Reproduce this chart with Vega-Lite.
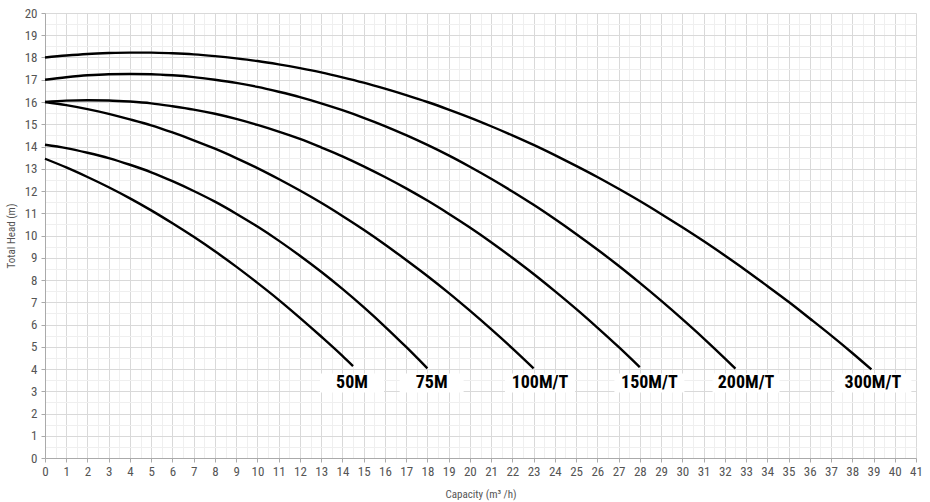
{
  "$schema": "https://vega.github.io/schema/vega-lite/v6.json",
  "autosize": "none",
  "width": 871,
  "height": 445,
  "padding": {"left": 45, "top": 13, "right": 14, "bottom": 44},
  "background": "white",
  "config": {"view": {"stroke": null}},
  "datasets": {
    "curves": [
      {"pump": "50M", "x": 0, "y": 13.45}, {"pump": "50M", "x": 1, "y": 13.06}, {"pump": "50M", "x": 2, "y": 12.63}, {"pump": "50M", "x": 3, "y": 12.17}, {"pump": "50M", "x": 4, "y": 11.67}, {"pump": "50M", "x": 5, "y": 11.13}, {"pump": "50M", "x": 6, "y": 10.55}, {"pump": "50M", "x": 7, "y": 9.94}, {"pump": "50M", "x": 8, "y": 9.29}, {"pump": "50M", "x": 9, "y": 8.6}, {"pump": "50M", "x": 10, "y": 7.87}, {"pump": "50M", "x": 11, "y": 7.11}, {"pump": "50M", "x": 12, "y": 6.3}, {"pump": "50M", "x": 13, "y": 5.46}, {"pump": "50M", "x": 14, "y": 4.59}, {"pump": "50M", "x": 14.5, "y": 4.13},
      {"pump": "75M", "x": 0, "y": 14.08}, {"pump": "75M", "x": 1, "y": 13.93}, {"pump": "75M", "x": 2, "y": 13.72}, {"pump": "75M", "x": 3, "y": 13.48}, {"pump": "75M", "x": 4, "y": 13.18}, {"pump": "75M", "x": 5, "y": 12.84}, {"pump": "75M", "x": 6, "y": 12.44}, {"pump": "75M", "x": 7, "y": 12.0}, {"pump": "75M", "x": 8, "y": 11.52}, {"pump": "75M", "x": 9, "y": 10.98}, {"pump": "75M", "x": 10, "y": 10.4}, {"pump": "75M", "x": 11, "y": 9.77}, {"pump": "75M", "x": 12, "y": 9.09}, {"pump": "75M", "x": 13, "y": 8.37}, {"pump": "75M", "x": 14, "y": 7.6}, {"pump": "75M", "x": 15, "y": 6.78}, {"pump": "75M", "x": 16, "y": 5.91}, {"pump": "75M", "x": 17, "y": 4.99}, {"pump": "75M", "x": 18, "y": 4.03},
      {"pump": "100M/T", "x": 0, "y": 16.0}, {"pump": "100M/T", "x": 1, "y": 15.86}, {"pump": "100M/T", "x": 2, "y": 15.68}, {"pump": "100M/T", "x": 3, "y": 15.47}, {"pump": "100M/T", "x": 4, "y": 15.22}, {"pump": "100M/T", "x": 5, "y": 14.95}, {"pump": "100M/T", "x": 6, "y": 14.63}, {"pump": "100M/T", "x": 7, "y": 14.28}, {"pump": "100M/T", "x": 8, "y": 13.9}, {"pump": "100M/T", "x": 9, "y": 13.48}, {"pump": "100M/T", "x": 10, "y": 13.03}, {"pump": "100M/T", "x": 11, "y": 12.54}, {"pump": "100M/T", "x": 12, "y": 12.02}, {"pump": "100M/T", "x": 13, "y": 11.47}, {"pump": "100M/T", "x": 14, "y": 10.88}, {"pump": "100M/T", "x": 15, "y": 10.26}, {"pump": "100M/T", "x": 16, "y": 9.6}, {"pump": "100M/T", "x": 17, "y": 8.9}, {"pump": "100M/T", "x": 18, "y": 8.18}, {"pump": "100M/T", "x": 19, "y": 7.42}, {"pump": "100M/T", "x": 20, "y": 6.62}, {"pump": "100M/T", "x": 21, "y": 5.79}, {"pump": "100M/T", "x": 22, "y": 4.93}, {"pump": "100M/T", "x": 23, "y": 4.03},
      {"pump": "150M/T", "x": 0, "y": 16.0}, {"pump": "150M/T", "x": 1, "y": 16.06}, {"pump": "150M/T", "x": 2, "y": 16.08}, {"pump": "150M/T", "x": 3, "y": 16.07}, {"pump": "150M/T", "x": 4, "y": 16.02}, {"pump": "150M/T", "x": 5, "y": 15.94}, {"pump": "150M/T", "x": 6, "y": 15.81}, {"pump": "150M/T", "x": 7, "y": 15.66}, {"pump": "150M/T", "x": 8, "y": 15.47}, {"pump": "150M/T", "x": 9, "y": 15.24}, {"pump": "150M/T", "x": 10, "y": 14.97}, {"pump": "150M/T", "x": 11, "y": 14.67}, {"pump": "150M/T", "x": 12, "y": 14.34}, {"pump": "150M/T", "x": 13, "y": 13.96}, {"pump": "150M/T", "x": 14, "y": 13.56}, {"pump": "150M/T", "x": 15, "y": 13.11}, {"pump": "150M/T", "x": 16, "y": 12.63}, {"pump": "150M/T", "x": 17, "y": 12.12}, {"pump": "150M/T", "x": 18, "y": 11.57}, {"pump": "150M/T", "x": 19, "y": 10.98}, {"pump": "150M/T", "x": 20, "y": 10.36}, {"pump": "150M/T", "x": 21, "y": 9.7}, {"pump": "150M/T", "x": 22, "y": 9.0}, {"pump": "150M/T", "x": 23, "y": 8.27}, {"pump": "150M/T", "x": 24, "y": 7.5}, {"pump": "150M/T", "x": 25, "y": 6.7}, {"pump": "150M/T", "x": 26, "y": 5.86}, {"pump": "150M/T", "x": 27, "y": 4.99}, {"pump": "150M/T", "x": 28, "y": 4.08},
      {"pump": "200M/T", "x": 0, "y": 17.0}, {"pump": "200M/T", "x": 1, "y": 17.11}, {"pump": "200M/T", "x": 2, "y": 17.2}, {"pump": "200M/T", "x": 3, "y": 17.25}, {"pump": "200M/T", "x": 4, "y": 17.26}, {"pump": "200M/T", "x": 5, "y": 17.25}, {"pump": "200M/T", "x": 6, "y": 17.2}, {"pump": "200M/T", "x": 7, "y": 17.12}, {"pump": "200M/T", "x": 8, "y": 17.0}, {"pump": "200M/T", "x": 9, "y": 16.86}, {"pump": "200M/T", "x": 10, "y": 16.68}, {"pump": "200M/T", "x": 11, "y": 16.46}, {"pump": "200M/T", "x": 12, "y": 16.22}, {"pump": "200M/T", "x": 13, "y": 15.94}, {"pump": "200M/T", "x": 14, "y": 15.63}, {"pump": "200M/T", "x": 15, "y": 15.29}, {"pump": "200M/T", "x": 16, "y": 14.92}, {"pump": "200M/T", "x": 17, "y": 14.51}, {"pump": "200M/T", "x": 18, "y": 14.07}, {"pump": "200M/T", "x": 19, "y": 13.6}, {"pump": "200M/T", "x": 20, "y": 13.09}, {"pump": "200M/T", "x": 21, "y": 12.55}, {"pump": "200M/T", "x": 22, "y": 11.98}, {"pump": "200M/T", "x": 23, "y": 11.38}, {"pump": "200M/T", "x": 24, "y": 10.74}, {"pump": "200M/T", "x": 25, "y": 10.07}, {"pump": "200M/T", "x": 26, "y": 9.37}, {"pump": "200M/T", "x": 27, "y": 8.64}, {"pump": "200M/T", "x": 28, "y": 7.87}, {"pump": "200M/T", "x": 29, "y": 7.07}, {"pump": "200M/T", "x": 30, "y": 6.24}, {"pump": "200M/T", "x": 31, "y": 5.38}, {"pump": "200M/T", "x": 32, "y": 4.48}, {"pump": "200M/T", "x": 32.5, "y": 4.02},
      {"pump": "300M/T", "x": 0, "y": 18.0}, {"pump": "300M/T", "x": 1, "y": 18.09}, {"pump": "300M/T", "x": 2, "y": 18.16}, {"pump": "300M/T", "x": 3, "y": 18.2}, {"pump": "300M/T", "x": 4, "y": 18.22}, {"pump": "300M/T", "x": 5, "y": 18.22}, {"pump": "300M/T", "x": 6, "y": 18.19}, {"pump": "300M/T", "x": 7, "y": 18.14}, {"pump": "300M/T", "x": 8, "y": 18.06}, {"pump": "300M/T", "x": 9, "y": 17.96}, {"pump": "300M/T", "x": 10, "y": 17.84}, {"pump": "300M/T", "x": 11, "y": 17.69}, {"pump": "300M/T", "x": 12, "y": 17.52}, {"pump": "300M/T", "x": 13, "y": 17.33}, {"pump": "300M/T", "x": 14, "y": 17.11}, {"pump": "300M/T", "x": 15, "y": 16.87}, {"pump": "300M/T", "x": 16, "y": 16.6}, {"pump": "300M/T", "x": 17, "y": 16.31}, {"pump": "300M/T", "x": 18, "y": 16.0}, {"pump": "300M/T", "x": 19, "y": 15.66}, {"pump": "300M/T", "x": 20, "y": 15.3}, {"pump": "300M/T", "x": 21, "y": 14.91}, {"pump": "300M/T", "x": 22, "y": 14.5}, {"pump": "300M/T", "x": 23, "y": 14.07}, {"pump": "300M/T", "x": 24, "y": 13.61}, {"pump": "300M/T", "x": 25, "y": 13.13}, {"pump": "300M/T", "x": 26, "y": 12.63}, {"pump": "300M/T", "x": 27, "y": 12.1}, {"pump": "300M/T", "x": 28, "y": 11.55}, {"pump": "300M/T", "x": 29, "y": 10.97}, {"pump": "300M/T", "x": 30, "y": 10.37}, {"pump": "300M/T", "x": 31, "y": 9.75}, {"pump": "300M/T", "x": 32, "y": 9.1}, {"pump": "300M/T", "x": 33, "y": 8.43}, {"pump": "300M/T", "x": 34, "y": 7.73}, {"pump": "300M/T", "x": 35, "y": 7.02}, {"pump": "300M/T", "x": 36, "y": 6.27}, {"pump": "300M/T", "x": 37, "y": 5.51}, {"pump": "300M/T", "x": 38, "y": 4.72}, {"pump": "300M/T", "x": 38.9, "y": 3.98}
    ],
    "labels": [
      {"pump": "50M", "x": 14.45, "y": 3.37},
      {"pump": "75M", "x": 18.2, "y": 3.37},
      {"pump": "100M/T", "x": 23.3, "y": 3.37},
      {"pump": "150M/T", "x": 28.45, "y": 3.37},
      {"pump": "200M/T", "x": 33.0, "y": 3.37},
      {"pump": "300M/T", "x": 38.97, "y": 3.37}
    ]
  },
  "encoding": {
    "x": {
      "field": "x", "type": "quantitative",
      "scale": {"domain": [0, 41], "nice": false, "zero": true},
      "axis": {
        "values": [0,0.5,1,1.5,2,2.5,3,3.5,4,4.5,5,5.5,6,6.5,7,7.5,8,8.5,9,9.5,10,10.5,11,11.5,12,12.5,13,13.5,14,14.5,15,15.5,16,16.5,17,17.5,18,18.5,19,19.5,20,20.5,21,21.5,22,22.5,23,23.5,24,24.5,25,25.5,26,26.5,27,27.5,28,28.5,29,29.5,30,30.5,31,31.5,32,32.5,33,33.5,34,34.5,35,35.5,36,36.5,37,37.5,38,38.5,39,39.5,40,40.5,41],
        "labelExpr": "datum.value % 1 === 0 ? '' + datum.value : ''",
        "labelOverlap": false,
        "labelFlush": false,
        "grid": true,
        "gridColor": {"condition": {"test": "datum.value % 1 !== 0", "value": "#efefef"}, "value": "#d9d9d9"},
        "gridWidth": 1,
        "tickOpacity": {"condition": {"test": "datum.value % 1 !== 0", "value": 0}, "value": 1},
        "tickColor": "#aaaaaa",
        "tickSize": 4,
        "domainColor": "#aaaaaa",
        "labelColor": "#555555",
        "labelFont": "Roboto Condensed, Roboto",
        "labelFontSize": 13,
        "labelPadding": 3,
        "title": "Capacity (m³ /h)",
        "titleFont": "Roboto Condensed, Roboto",
        "titleFontSize": 11,
        "titleFontWeight": "normal",
        "titleColor": "#555555",
        "titlePadding": 10
      }
    },
    "y": {
      "field": "y", "type": "quantitative",
      "scale": {"domain": [0, 20], "nice": false},
      "axis": {
        "values": [0,0.5,1,1.5,2,2.5,3,3.5,4,4.5,5,5.5,6,6.5,7,7.5,8,8.5,9,9.5,10,10.5,11,11.5,12,12.5,13,13.5,14,14.5,15,15.5,16,16.5,17,17.5,18,18.5,19,19.5,20],
        "labelExpr": "datum.value % 1 === 0 ? '' + datum.value : ''",
        "labelOverlap": false,
        "labelFlush": false,
        "grid": true,
        "gridColor": {"condition": {"test": "datum.value % 1 !== 0", "value": "#efefef"}, "value": "#d9d9d9"},
        "gridWidth": 1,
        "tickOpacity": {"condition": {"test": "datum.value % 1 !== 0", "value": 0}, "value": 1},
        "tickColor": "#aaaaaa",
        "tickSize": 4,
        "domainColor": "#aaaaaa",
        "labelColor": "#555555",
        "labelFont": "Roboto Condensed, Roboto",
        "labelFontSize": 13,
        "labelPadding": 4,
        "title": "Total Head (m)",
        "titleFont": "Roboto Condensed, Roboto",
        "titleFontSize": 11,
        "titleFontWeight": "normal",
        "titleColor": "#555555",
        "titlePadding": 8
      }
    }
  },
  "layer": [
    {
      "data": {"name": "curves"},
      "mark": {"type": "line", "color": "black", "strokeWidth": 2.4, "interpolate": "monotone", "strokeCap": "butt"},
      "encoding": {
        "detail": {"field": "pump", "type": "nominal"}
      }
    },
    {
      "data": {"name": "labels"},
      "mark": {"type": "point", "filled": true, "color": "white", "opacity": 1, "size": 400, "strokeWidth": 0},
      "encoding": {
        "shape": {
          "field": "pump", "type": "nominal", "legend": null,
          "scale": {
            "domain": ["50M", "75M", "100M/T", "150M/T", "200M/T", "300M/T"],
            "range": ["M-3.2,-0.95H3.2V0.95H-3.2Z", "M-3.2,-0.95H3.2V0.95H-3.2Z", "M-3.5,-0.95H3.5V0.95H-3.5Z", "M-3.5,-0.95H3.5V0.95H-3.5Z", "M-3.35,-0.95H3.35V0.95H-3.35Z", "M-3.85,-0.95H3.85V0.95H-3.85Z"]
          }
        }
      }
    },
    {
      "data": {"name": "labels"},
      "mark": {"type": "text", "font": "Roboto Condensed, Roboto", "fontWeight": "bold", "fontSize": 18, "color": "black", "baseline": "middle", "align": "center"},
      "encoding": {
        "text": {"field": "pump", "type": "nominal"}
      }
    }
  ]
}
